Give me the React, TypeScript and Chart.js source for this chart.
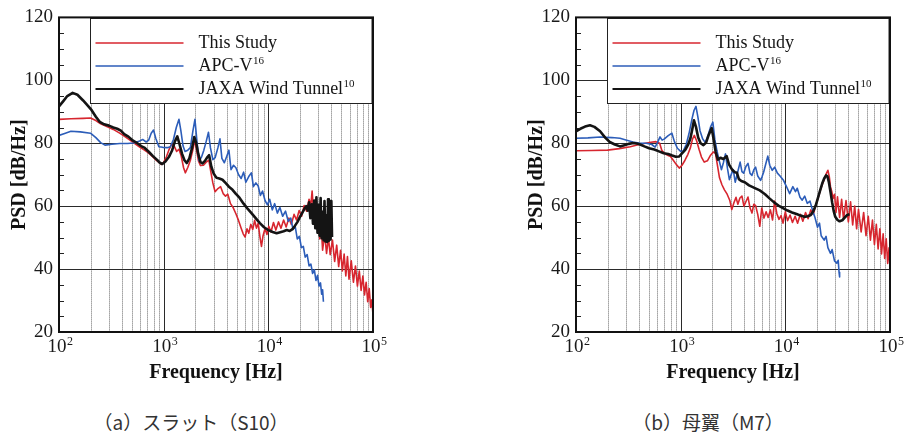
import React, { useEffect, useRef } from 'react';
import { Chart, registerables } from 'chart.js';

Chart.register(...registerables);

type Pt = [number, number];

// ---------- (a) Slat (S10) ----------
const slatThisStudy: Pt[] = [
  [100, 87.6], [130, 87.8], [170, 87.9], [200, 88.0], [225, 87.2], [250, 86.2], [290, 85.2], [330, 84.4],
  [380, 83.2], [430, 82.0], [480, 80.9], [530, 79.9], [590, 78.8], [650, 77.9], [710, 77.0], [770, 76.0],
  [830, 74.9], [890, 74.1], [950, 73.3], [1000, 73.9], [1060, 75.6], [1120, 77.8], [1190, 79.7], [1260, 79.1],
  [1330, 77.4], [1400, 78.1], [1470, 76.0], [1550, 72.2], [1610, 70.6], [1700, 72.3], [1800, 74.6], [1900, 77.9],
  [1980, 81.0], [2060, 78.0], [2150, 74.4], [2250, 72.9], [2400, 73.0], [2550, 74.0], [2700, 74.6], [2820, 71.0],
  [2950, 67.4], [3100, 64.6], [3300, 65.6], [3500, 66.2], [3700, 64.0], [3900, 63.2], [4100, 63.8], [4350, 60.8],
  [4600, 59.6], [4900, 57.6], [5200, 55.4], [5500, 53.0], [5750, 51.2], [6000, 50.2], [6250, 52.8], [6500, 51.4],
  [6800, 54.2], [7100, 52.6], [7400, 55.5], [7700, 53.0], [8000, 54.6], [8300, 50.4], [8600, 47.2], [8900, 50.6],
  [9300, 52.9], [9700, 51.0], [10100, 53.6], [10600, 51.8], [11200, 54.8], [11800, 52.4], [12500, 55.0], [13200, 53.0],
  [14000, 55.6], [14800, 53.4], [15700, 56.2], [16600, 54.2], [17600, 57.4], [18600, 55.6], [19700, 58.6], [20800, 56.8],
  [22000, 60.2], [23200, 58.4], [24500, 62.2], [25500, 60.4], [26200, 64.8], [27000, 58.8], [28000, 61.2], [29000, 55.2],
  [30000, 57.6], [31000, 49.6], [32000, 53.6], [33000, 46.0], [34500, 51.2], [36000, 45.0], [37500, 50.0], [39000, 44.6],
  [41000, 49.2], [43000, 42.4], [45000, 47.6], [47000, 40.8], [49000, 46.0], [51000, 39.4], [53000, 44.8], [55000, 37.8],
  [57000, 44.0], [59000, 36.8], [62000, 42.6], [65000, 35.8], [68000, 41.0], [71000, 34.6], [74000, 39.4], [77000, 33.2],
  [80000, 37.8], [83000, 31.8], [86000, 35.8], [89000, 29.6], [92000, 33.8], [95000, 27.8], [97500, 30.2], [100000, 25.4],
];

const slatApcV: Pt[] = [
  [100, 82.5], [115, 83.2], [130, 83.8], [160, 83.6], [200, 83.2], [225, 81.8], [250, 80.2], [275, 79.4],
  [320, 79.7], [380, 79.9], [450, 79.9], [520, 80.1], [580, 80.6], [630, 81.2], [680, 80.4], [720, 81.0],
  [760, 83.2], [800, 84.2], [840, 81.6], [900, 78.9], [980, 78.7], [1080, 78.6], [1160, 78.9], [1240, 81.2],
  [1320, 85.0], [1400, 87.6], [1460, 84.0], [1530, 79.2], [1600, 77.4], [1700, 77.8], [1800, 78.6], [1900, 83.8],
  [1990, 87.6], [2080, 80.6], [2180, 74.4], [2300, 75.6], [2420, 77.8], [2550, 80.6], [2680, 83.5], [2800, 78.5],
  [2950, 74.8], [3100, 75.4], [3300, 78.6], [3450, 81.4], [3600, 75.2], [3800, 73.8], [4000, 75.8], [4200, 77.8],
  [4400, 71.6], [4650, 73.0], [4900, 72.2], [5200, 70.0], [5500, 68.8], [5800, 70.8], [6100, 67.6], [6500, 69.4],
  [6900, 70.6], [7200, 66.2], [7600, 67.4], [8000, 66.4], [8400, 63.4], [8800, 64.8], [9300, 61.8], [9800, 60.4],
  [10300, 62.2], [10900, 58.8], [11500, 60.8], [12200, 57.8], [12900, 59.6], [13700, 56.8], [14600, 58.4], [15500, 55.2],
  [16400, 56.2], [17200, 52.6], [18000, 53.8], [18900, 49.6], [19800, 50.4], [20700, 46.8], [21600, 47.2], [22500, 43.8],
  [23500, 44.6], [24500, 41.0], [25500, 41.6], [26500, 38.6], [27500, 39.8], [28500, 36.4], [29500, 38.0], [30500, 34.6],
  [31500, 35.6], [32300, 32.0], [33000, 33.4], [33600, 29.6],
];

const slatJaxa: Pt[] = [
  [100, 91.7], [110, 93.4], [120, 95.0], [135, 96.0], [150, 95.4], [170, 93.6], [190, 91.8], [205, 90.5],
  [225, 88.4], [245, 86.8], [270, 86.0], [300, 85.6], [330, 85.0], [360, 84.6], [390, 84.0], [420, 82.9],
  [460, 82.1], [510, 80.8], [560, 80.0], [610, 79.1], [660, 78.5], [720, 77.3], [790, 75.9], [860, 74.8],
  [920, 73.8], [970, 73.4], [1040, 74.2], [1120, 75.6], [1200, 77.6], [1280, 80.6], [1350, 82.2], [1420, 79.6],
  [1500, 76.6], [1580, 74.6], [1660, 73.7], [1760, 75.2], [1870, 78.6], [1960, 82.0], [2040, 80.2], [2140, 76.6],
  [2250, 74.0], [2350, 73.6], [2480, 74.4], [2620, 75.6], [2720, 76.2], [2850, 72.6], [3000, 70.4], [3200, 69.0],
  [3400, 68.8], [3650, 68.4], [3900, 67.4], [4200, 66.2], [4550, 65.2], [4900, 63.9], [5300, 62.7], [5800, 60.8],
  [6300, 59.3], [6900, 57.8], [7600, 56.1], [8300, 54.6], [9100, 53.3], [10000, 52.4], [11000, 51.8], [12000, 51.4],
  [13000, 51.7], [14000, 52.0], [15000, 52.4], [16000, 52.1], [17000, 52.7], [18000, 53.8], [19000, 55.0], [20000, 56.5],
  [21000, 57.8], [22000, 59.0], [23000, 60.0], [23800, 58.6], [24500, 61.2], [25200, 56.2], [26000, 60.6], [26700, 54.4],
  [27400, 61.8], [28100, 53.0], [28800, 62.8], [29500, 51.6], [30200, 60.4], [30900, 50.6], [31600, 62.6], [32300, 49.8],
  [33000, 58.2], [33700, 49.2], [34400, 61.6], [35100, 48.8], [35800, 57.0], [36500, 48.6], [37200, 62.2], [37900, 49.0],
  [38600, 56.4], [39300, 49.4], [40000, 61.6], [40600, 50.2],
];

// ---------- (b) Main wing (M7) ----------
const wingThisStudy: Pt[] = [
  [100, 77.6], [140, 77.7], [200, 77.8], [260, 78.3], [330, 78.9], [400, 79.6], [460, 80.0], [520, 80.3],
  [580, 80.5], [630, 80.0], [660, 77.8], [700, 76.8], [750, 76.2], [800, 75.8], [850, 74.6], [910, 73.2],
  [970, 72.1], [1030, 73.0], [1100, 74.6], [1170, 76.4], [1240, 78.6], [1300, 81.4], [1350, 82.5], [1420, 80.8],
  [1500, 78.0], [1580, 75.6], [1680, 74.0], [1800, 74.4], [1930, 76.2], [2050, 77.2], [2150, 76.8], [2250, 72.8],
  [2350, 69.0], [2480, 66.8], [2620, 65.2], [2780, 63.8], [2950, 61.8], [3080, 58.9], [3220, 61.0], [3380, 62.8],
  [3520, 60.6], [3680, 62.6], [3850, 63.2], [4020, 60.0], [4200, 61.4], [4400, 62.9], [4600, 59.4], [4800, 57.8],
  [5000, 60.6], [5200, 60.2], [5450, 57.4], [5700, 53.6], [5950, 59.4], [6250, 56.2], [6550, 58.2], [6850, 56.4],
  [7200, 58.8], [7550, 55.6], [7900, 61.6], [8300, 57.6], [8700, 55.8], [9100, 57.0], [9500, 54.6], [10000, 58.2],
  [10500, 55.4], [11100, 57.2], [11700, 54.8], [12400, 56.8], [13100, 54.6], [13900, 57.4], [14700, 55.2], [15600, 58.0],
  [16500, 56.0], [17500, 58.8], [18500, 57.4], [19500, 60.2], [20500, 62.4], [21500, 64.8], [22500, 66.8], [23500, 68.4],
  [24500, 70.2], [25500, 71.4], [26300, 69.4], [27000, 66.2], [27800, 64.6], [28600, 62.4], [29500, 63.8], [30500, 58.0],
  [31500, 63.0], [33000, 56.4], [34500, 62.2], [36000, 55.8], [38000, 61.8], [40000, 55.0], [42000, 61.4], [44000, 54.0],
  [46000, 60.0], [48000, 52.8], [50000, 59.0], [53000, 51.8], [56000, 58.0], [59000, 50.6], [62000, 56.8], [65000, 49.2],
  [68000, 55.6], [71000, 47.8], [74000, 54.2], [77000, 46.4], [80000, 52.8], [83000, 44.8], [86000, 51.2], [89000, 43.4],
  [92000, 49.6], [95000, 41.8], [98000, 46.8], [100000, 40.3],
];

const wingApcV: Pt[] = [
  [100, 81.6], [130, 81.7], [170, 82.0], [220, 81.8], [263, 81.6], [300, 81.0], [350, 80.4], [410, 80.0],
  [470, 80.0], [530, 79.6], [570, 78.8], [600, 80.2], [635, 82.0], [665, 81.0], [700, 81.4], [760, 82.4],
  [825, 83.2], [870, 80.6], [930, 78.4], [1000, 77.4], [1060, 77.6], [1130, 79.6], [1200, 83.0], [1280, 87.6],
  [1340, 90.4], [1400, 91.7], [1460, 88.4], [1530, 84.0], [1620, 81.4], [1720, 80.2], [1830, 82.6], [1940, 85.4],
  [2030, 86.7], [2120, 81.2], [2220, 77.6], [2330, 74.6], [2450, 71.6], [2560, 73.8], [2680, 76.6], [2800, 72.0],
  [2920, 68.4], [3050, 70.2], [3180, 71.6], [3320, 67.6], [3480, 70.4], [3700, 74.0], [3850, 71.0], [4000, 70.5],
  [4200, 72.6], [4400, 73.6], [4600, 70.4], [4800, 69.8], [5000, 71.6], [5200, 72.4], [5450, 69.6], [5800, 68.2],
  [6000, 69.4], [6200, 70.8], [6500, 73.4], [6800, 75.9], [7100, 73.0], [7500, 71.4], [7900, 72.4], [8400, 70.5],
  [8900, 69.6], [9600, 68.2], [10200, 66.4], [11000, 64.0], [11800, 66.2], [12500, 64.6], [13000, 65.7], [13800, 62.8],
  [14500, 61.9], [15300, 63.2], [16200, 60.9], [17200, 61.6], [18200, 58.7], [19200, 56.4], [20300, 53.3], [21200, 54.6],
  [22000, 50.6], [23500, 49.2], [24500, 50.4], [25500, 46.8], [27000, 45.0], [28000, 46.2], [29500, 42.6], [31000, 41.9],
  [32000, 42.8], [32600, 39.0], [33000, 37.5],
];

const wingJaxa: Pt[] = [
  [100, 83.8], [110, 84.6], [122, 85.3], [136, 85.7], [150, 85.2], [170, 83.8], [190, 81.8], [210, 80.4],
  [235, 79.6], [263, 79.0], [290, 79.4], [320, 79.8], [350, 80.1], [380, 79.9], [410, 79.6], [450, 79.0],
  [500, 78.4], [560, 78.0], [620, 77.4], [690, 76.8], [760, 76.6], [830, 76.1], [900, 75.7], [970, 75.8],
  [1040, 76.9], [1110, 78.0], [1180, 79.6], [1240, 81.6], [1290, 84.4], [1340, 87.3], [1400, 85.2], [1470, 81.8],
  [1550, 80.0], [1650, 79.4], [1750, 80.2], [1860, 82.8], [1980, 84.8], [2060, 81.4], [2160, 77.2], [2270, 74.8],
  [2400, 75.4], [2550, 75.0], [2750, 75.9], [2900, 73.2], [3100, 71.6], [3300, 70.8], [3450, 70.6], [3600, 68.6],
  [3800, 68.0], [4100, 67.6], [4500, 66.6], [5000, 65.9], [5700, 65.0], [6400, 63.8], [7100, 62.4], [7800, 61.2],
  [8600, 60.2], [9500, 59.4], [10500, 58.6], [11600, 58.0], [12800, 57.5], [14000, 57.0], [15200, 56.6], [16400, 56.8],
  [17500, 57.2], [18500, 58.4], [19500, 60.2], [20500, 62.6], [21500, 65.0], [22500, 67.2], [23500, 68.8], [24500, 69.8],
  [25300, 69.4], [26000, 67.8], [27000, 64.6], [28000, 61.2], [29000, 58.4], [30000, 56.6], [31500, 55.6], [33000, 55.2],
  [35000, 55.5], [37000, 56.4], [39000, 57.2], [41000, 57.4],
];

// ---------- labels / ticks ----------
const seriesNames = ['This Study', 'APC-V', 'JAXA Wind Tunnel'];
const seriesRefs = ['', '16', '10'];
const seriesColors = ['#d7262f', '#2c5db9', '#141414'];
const seriesWidths = [1.6, 1.6, 2.6];
const legendWidths = [1.3, 1.3, 2.1];
const xDecades = [100, 1000, 10000, 100000];
const xMinorMultipliers = [2, 3, 4, 5, 6, 7, 8, 9];
const yGridValues = [40, 60, 80, 100];
const yMinorTicks = [25, 30, 35, 45, 50, 55, 65, 70, 75, 85, 90, 95, 105, 110, 115];
const xTitle = 'Frequency [Hz]';
const yTitle = 'PSD [dB/Hz]';
const captions = ['（a）スラット（S10）', '（b）母翼（M7）'];

const SERIF = '"Liberation Serif", "Times New Roman", serif';

const decorPlugin = {
  id: 'decor',
  beforeDatasetsDraw(chart: any) {
    const { ctx, chartArea: a, scales } = chart;
    const x = scales.x;
    const y = scales.y;
    ctx.save();
    ctx.strokeStyle = '#6a6a6a';
    ctx.lineWidth = 1;
    ctx.setLineDash([1, 1]);
    for (let d = 0; d < xDecades.length - 1; d++) {
      for (const m of xMinorMultipliers) {
        const px = Math.round(x.getPixelForValue(xDecades[d] * m)) + 0.5;
        ctx.beginPath();
        ctx.moveTo(px, a.top);
        ctx.lineTo(px, a.bottom);
        ctx.stroke();
      }
    }
    ctx.setLineDash([]);
    ctx.strokeStyle = '#2a2a2a';
    for (const v of xDecades) {
      const px = Math.round(x.getPixelForValue(v)) + 0.5;
      ctx.beginPath();
      ctx.moveTo(px, a.top);
      ctx.lineTo(px, a.bottom);
      ctx.stroke();
    }
    for (const v of yGridValues) {
      const py = Math.round(y.getPixelForValue(v)) + 0.5;
      ctx.beginPath();
      ctx.moveTo(a.left, py);
      ctx.lineTo(a.right, py);
      ctx.stroke();
    }
    ctx.restore();
  },
  afterDatasetsDraw(chart: any) {
    const { ctx, chartArea: a, scales } = chart;
    const x = scales.x;
    const y = scales.y;
    ctx.save();
    ctx.strokeStyle = '#222';
    ctx.lineWidth = 1;
    for (const v of yMinorTicks) {
      const py = Math.round(y.getPixelForValue(v)) + 0.5;
      ctx.beginPath();
      ctx.moveTo(a.left, py);
      ctx.lineTo(a.left + 5, py);
      ctx.stroke();
    }
    // legend
    const bx = Math.round(a.left + 31) + 0.5;
    const by = Math.round(a.top + 1) + 0.5;
    const bw = Math.round(a.right - 1) - bx;
    const bh = 85;
    ctx.fillStyle = '#ffffff';
    ctx.fillRect(bx, by, bw, bh);
    ctx.strokeStyle = '#222';
    ctx.lineWidth = 1;
    ctx.strokeRect(bx, by, bw, bh);
    for (let i = 0; i < seriesNames.length; i++) {
      const ly = by + 24.5 + i * 23;
      ctx.strokeStyle = seriesColors[i];
      ctx.lineWidth = legendWidths[i];
      ctx.beginPath();
      ctx.moveTo(bx + 5, ly);
      ctx.lineTo(bx + 93, ly);
      ctx.stroke();
      ctx.fillStyle = '#151515';
      ctx.font = `18px ${SERIF}`;
      ctx.textAlign = 'left';
      ctx.textBaseline = 'alphabetic';
      const tx = bx + 108;
      const base = ly + 5;
      ctx.fillText(seriesNames[i], tx, base);
      if (seriesRefs[i]) {
        const w = ctx.measureText(seriesNames[i]).width;
        ctx.font = `11px ${SERIF}`;
        ctx.fillText(seriesRefs[i], tx + w + 0.5, base - 7);
      }
    }
    // x tick labels 10^n
    ctx.fillStyle = '#1a1a1a';
    for (const v of xDecades) {
      const px = x.getPixelForValue(v);
      const exp = String(Math.round(Math.log10(v)));
      ctx.font = `19px ${SERIF}`;
      const w1 = ctx.measureText('10').width;
      ctx.font = `12px ${SERIF}`;
      const w2 = ctx.measureText(exp).width;
      const sx = px - (w1 + w2) / 2 + 1;
      const base = a.bottom + 20;
      ctx.textAlign = 'left';
      ctx.textBaseline = 'alphabetic';
      ctx.font = `19px ${SERIF}`;
      ctx.fillText('10', sx, base);
      ctx.font = `12px ${SERIF}`;
      ctx.fillText(exp, sx + w1 + 0.5, base - 7);
    }
    // axis titles
    ctx.fillStyle = '#111';
    ctx.font = `bold 20px ${SERIF}`;
    ctx.textAlign = 'center';
    ctx.textBaseline = 'middle';
    ctx.fillText(xTitle, (a.left + a.right) / 2, a.bottom + 41);
    ctx.save();
    ctx.translate(a.left - 39, (a.top + a.bottom) / 2);
    ctx.rotate(-Math.PI / 2);
    ctx.fillText(yTitle, 0, 0);
    ctx.restore();
    // frame
    ctx.strokeStyle = '#111';
    ctx.lineWidth = 2;
    ctx.strokeRect(a.left, a.top, a.right - a.left, a.bottom - a.top);
    ctx.restore();
  },
};

type ChartProps = {
  series: Pt[][];
  left: number;
  width: number;
  height: number;
  areaLeft: number;
  areaRight: number;
  areaTop: number;
  areaBottom: number;
};

function SpectrumChart({ series, left, width, height, areaLeft, areaRight, areaTop, areaBottom }: ChartProps) {
  const ref = useRef<HTMLCanvasElement>(null);
  useEffect(() => {
    const canvas = ref.current;
    if (!canvas) return;
    const chart = new Chart(canvas, {
      type: 'line',
      data: {
        datasets: series.map((s, i) => ({
          label: seriesNames[i],
          data: s.map(([fx, fy]) => ({ x: fx, y: fy })),
          borderColor: seriesColors[i],
          backgroundColor: seriesColors[i],
          borderWidth: seriesWidths[i],
          pointRadius: 0,
          tension: 0,
          fill: false,
          borderJoinStyle: 'round' as const,
          order: 3 - i,
        })),
      },
      options: {
        responsive: false,
        animation: false,
        devicePixelRatio: 1,
        events: [],
        layout: { padding: { left: 0, top: areaTop, right: width - areaRight, bottom: 0 } },
        plugins: { legend: { display: false }, tooltip: { enabled: false } },
        scales: {
          x: {
            type: 'logarithmic',
            min: 100,
            max: 100000,
            ticks: { display: false },
            grid: { display: false, drawTicks: false },
            border: { display: false },
            afterFit: (s: any) => {
              s.height = height - areaBottom;
            },
          },
          y: {
            type: 'linear',
            min: 20,
            max: 120,
            ticks: {
              stepSize: 20,
              padding: 6,
              color: '#1a1a1a',
              font: { family: SERIF, size: 19 },
            },
            grid: { display: false, drawTicks: false },
            border: { display: false },
            afterFit: (s: any) => {
              s.width = areaLeft;
            },
          },
        },
      } as any,
      plugins: [decorPlugin],
    });
    return () => chart.destroy();
  }, []);
  return (
    <canvas
      ref={ref}
      width={width}
      height={height}
      style={{ position: 'absolute', left, top: 0, width, height }}
    />
  );
}

export default function App() {
  const captionStyle = (cx: number): React.CSSProperties => ({
    position: 'absolute',
    left: cx,
    top: 409,
    transform: 'translateX(-50%)',
    fontFamily: '"Noto Sans CJK JP", sans-serif',
    fontSize: 19,
    lineHeight: '26px',
    color: '#333',
    whiteSpace: 'nowrap',
  });
  return (
    <div style={{ position: 'absolute', left: 0, top: 0, width: 905, height: 437, background: '#fff', overflow: 'hidden' }}>
      <SpectrumChart
        series={[slatThisStudy, slatApcV, slatJaxa]}
        left={0}
        width={452}
        height={395}
        areaLeft={59}
        areaRight={373}
        areaTop={17}
        areaBottom={332}
      />
      <SpectrumChart
        series={[wingThisStudy, wingApcV, wingJaxa]}
        left={452}
        width={453}
        height={395}
        areaLeft={124}
        areaRight={438}
        areaTop={17}
        areaBottom={332}
      />
      <div style={captionStyle(191)}>{captions[0]}</div>
      <div style={captionStyle(708)}>{captions[1]}</div>
    </div>
  );
}
